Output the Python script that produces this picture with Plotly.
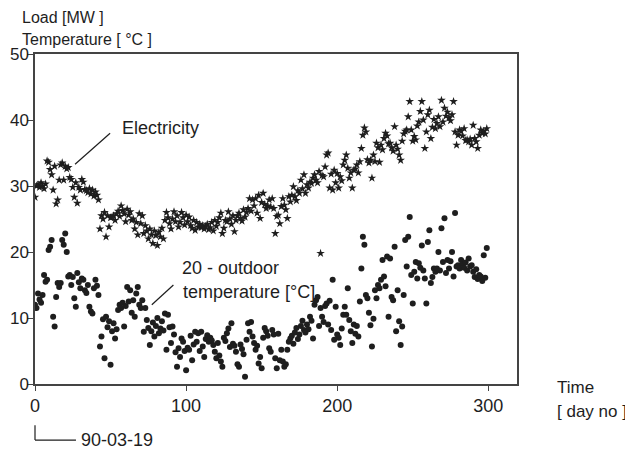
import plotly.graph_objects as go

# ---- data ----
elec_day = list(range(300))
elec_mw = [
    28.3, 30.0, 30.2, 29.8, 30.5, 30.0, 29.6, 30.3, 33.8, 33.6,
    32.5, 31.7, 29.4, 33.0, 27.3, 27.9, 30.9, 33.2, 33.5, 30.9,
    33.0, 32.6, 32.8, 31.3, 31.0, 29.8, 28.3, 30.5, 27.4, 29.8,
    29.4, 31.0, 30.6, 29.5, 29.3, 29.0, 29.6, 28.8, 29.4, 28.5,
    29.1, 28.6, 27.9, 23.5, 25.5, 25.0, 26.0, 22.3, 25.5, 23.8,
    25.2, 25.3, 25.5, 24.8, 25.8, 26.2, 25.4, 27.0, 26.3, 25.8,
    24.6, 26.5, 25.6, 26.1, 24.8, 25.0, 23.5, 24.5, 22.6, 25.8,
    24.3, 25.5, 22.8, 24.0, 23.2, 22.0, 23.5, 22.6, 21.3, 23.2,
    22.5, 21.0, 23.0, 22.3, 23.6, 22.0, 24.8, 26.0, 25.2, 24.3,
    23.5, 25.0, 26.1, 24.6, 25.5, 23.8, 24.5, 26.0, 25.2, 24.1,
    25.6, 24.6, 25.3, 24.0, 23.6, 24.8, 23.3, 24.5, 23.8, 24.2,
    23.7, 24.0, 23.5, 23.9, 24.2, 23.4, 23.7, 24.5, 23.2, 24.8,
    23.9, 24.5, 25.2, 25.9, 22.8, 23.6, 24.8, 24.6, 26.1, 25.0,
    24.2, 25.5, 23.1, 24.8, 25.5, 25.9, 25.1, 24.7, 26.4, 25.3,
    26.0, 26.6, 28.1, 26.2, 27.9, 27.0, 28.1, 25.9, 28.6, 25.1,
    27.5, 28.9, 27.2, 26.6, 27.0, 27.9, 26.8, 28.1, 26.6, 22.8,
    25.4, 25.6, 24.3, 26.9, 28.1, 27.1, 26.4, 25.1, 28.4, 27.6,
    28.6, 29.9, 28.4, 27.8, 29.3, 28.9, 30.9, 29.6, 31.7, 28.9,
    30.2, 29.7, 30.6, 30.4, 31.2, 31.7, 30.9, 30.5, 32.2, 19.8,
    31.6, 31.4, 32.9, 34.7, 35.0, 29.7, 31.8, 29.4, 32.4, 30.5,
    31.9, 29.7, 31.4, 30.8, 33.2, 33.9, 34.7, 32.7, 31.2, 32.0,
    29.7, 32.4, 32.6, 33.2, 32.0, 33.7, 35.7, 37.7, 38.8, 38.2,
    34.0, 33.5, 33.9, 31.2, 34.7, 33.7, 36.5, 35.8, 33.6, 36.2,
    35.5, 37.2, 38.0, 37.6, 36.4, 36.5, 35.8, 35.3, 39.0, 36.2,
    35.6, 34.7, 33.9, 36.8, 37.9, 38.3, 38.5, 40.5, 42.8, 38.5,
    36.8, 37.5, 37.0, 39.1, 39.7, 41.3, 42.8, 40.0, 35.7, 38.2,
    40.8, 41.5, 37.2, 38.9, 40.1, 38.7, 39.5, 40.5, 39.0, 43.0,
    39.7, 41.8, 40.6, 41.2, 40.3, 39.9, 40.8, 42.8, 38.2, 36.2,
    37.7, 38.5, 38.3, 37.6, 38.7, 36.9, 37.0, 36.7, 37.1, 36.2,
    39.2, 37.2, 36.7, 35.7, 37.7, 38.5, 38.0, 38.3, 37.9, 38.7,
]

temp_day = list(range(300))
temp_val = [  # 20 - outdoor temperature [°C]
    12.0, 11.5, 13.7, 12.8, 12.3, 13.5, 16.5, 15.5, 15.8, 20.3,
    20.8, 21.8, 10.2, 8.7, 13.2, 15.3, 14.7, 15.3, 21.8, 21.1,
    22.8, 20.0, 16.3, 16.5, 15.0, 16.2, 13.0, 11.7, 16.8, 15.4,
    14.5, 16.0, 15.8, 14.2, 13.8, 15.0, 11.7, 11.0, 10.7, 14.5,
    15.8, 14.9, 13.5, 5.7, 7.2, 9.8, 3.9, 10.2, 8.6, 9.5,
    2.9, 8.0, 9.2, 6.9, 8.3, 11.2, 12.0, 11.5, 12.3, 8.7,
    11.8, 14.7, 12.5, 14.2, 10.8, 12.7, 10.2, 13.7, 14.7, 12.0,
    11.5, 12.7, 7.9, 11.5, 9.7, 8.5, 5.9, 8.0, 9.3, 7.2,
    8.8, 10.0, 7.7, 8.4, 9.5, 8.1, 10.7, 5.2, 10.5, 8.6,
    6.2, 8.7, 7.5, 4.8, 2.6, 5.4, 4.1, 6.9, 6.4, 5.0,
    2.1, 5.5, 5.2, 7.3, 3.6, 6.0, 7.9, 6.4, 7.7, 5.0,
    7.9, 5.7, 4.1, 6.8, 7.4, 6.4, 7.0, 6.6, 5.9, 4.9,
    3.9, 6.2, 4.3, 3.4, 2.6, 7.0, 6.5, 7.7, 8.4, 5.6,
    9.2, 6.1, 5.8, 4.9, 3.0, 2.6, 6.0, 5.3, 4.5, 1.1,
    6.7, 9.2, 7.9, 9.4, 7.2, 6.2, 5.2, 5.8, 3.1, 4.1,
    2.4, 7.0, 8.5, 8.0, 7.3, 5.4, 4.9, 8.2, 7.5, 3.9,
    2.4, 7.6, 3.6, 5.2, 3.4, 2.6, 3.0, 5.2, 6.4, 6.9,
    7.3, 6.1, 7.8, 8.5, 6.8, 7.5, 8.8, 9.6, 8.2, 7.8,
    9.0, 8.3, 10.2, 9.6, 6.9, 12.0, 12.7, 13.2, 8.8, 11.5,
    10.2, 9.4, 11.8, 12.2, 9.0, 12.6, 8.2, 15.8, 6.7, 11.7,
    7.5, 7.0, 5.9, 8.4, 10.5, 11.7, 10.5, 14.5, 9.7, 8.0,
    6.2, 9.0, 7.6, 8.8, 7.2, 12.5, 17.5, 22.3, 21.1, 13.5,
    13.0, 10.8, 8.9, 5.7, 9.9, 14.2, 13.0, 15.0, 14.5, 15.8,
    18.8, 16.3, 14.8, 19.3, 10.2, 19.0, 13.2, 12.7, 20.8, 8.0,
    14.2, 9.5, 5.9, 8.7, 13.5, 21.8, 17.8, 22.3, 25.3, 16.5,
    12.2, 17.0, 18.5, 16.0, 18.3, 17.6, 21.0, 17.2, 16.0, 12.2,
    21.5, 23.3, 15.3, 16.2, 17.5, 17.0, 17.5, 20.0, 17.2, 23.6,
    18.5, 25.1, 16.8, 18.8, 17.5, 18.6, 20.0, 16.3, 25.9, 17.8,
    18.0, 17.5, 18.8, 18.2, 17.6, 18.4, 17.2, 19.0, 17.8, 18.0,
    17.0, 16.2, 17.4, 15.9, 16.5, 16.3, 15.6, 19.5, 16.1, 20.6,
]

x_ticks = [0, 100, 200, 300]
y_ticks = [0, 10, 20, 30, 40, 50]

INK = "#1e1e1e"
FONT = "Liberation Sans, Arial, Helvetica, sans-serif"
FS = 18

fig = go.Figure()
fig.add_trace(go.Scatter(
    x=elec_day, y=elec_mw, mode="markers", name="Electricity",
    marker=dict(symbol="star", size=6.5, color=INK, line=dict(width=0)),
))
fig.add_trace(go.Scatter(
    x=temp_day, y=temp_val, mode="markers", name="20 - outdoor temperature [°C]",
    marker=dict(symbol="circle", size=6, color=INK, line=dict(width=0)),
))

# page body has an 8px margin, so the figure is sized/placed to compensate
fig.update_layout(
    width=625, height=446,
    margin=dict(l=27, r=116, t=46, b=70),
    paper_bgcolor="white", plot_bgcolor="white",
    showlegend=False,
    font=dict(family=FONT, size=FS, color=INK),
    xaxis=dict(
        range=[0, 319], tickvals=x_ticks, ticks="outside", ticklen=5,
        tickwidth=1, tickcolor="#444", showgrid=False, zeroline=False,
        showline=True, mirror=True, linecolor="#444", linewidth=1.5,
        tickfont=dict(size=FS), automargin=False,
    ),
    yaxis=dict(
        range=[0, 50], tickvals=y_ticks, ticks="outside", ticklen=6,
        tickwidth=1, tickcolor="#444", showgrid=False, zeroline=False,
        showline=True, mirror=True, linecolor="#444", linewidth=1.5,
        tickfont=dict(size=17), automargin=False, ticklabelstandoff=-5,
    ),
)

ann = [
    dict(text="Load [MW ]", xref="paper", yref="paper", x=-0.029, y=1.138,
         xanchor="left", yanchor="top", font_size=16, borderpad=0),
    dict(text="Temperature [ °C ]", xref="paper", yref="paper", x=-0.029, y=1.072,
         xanchor="left", yanchor="top", font_size=16, borderpad=0),
    dict(text="Time", xref="paper", yref="paper", x=1.079, y=-0.01,
         xanchor="left", yanchor="middle", font_size=17),
    dict(text="[ day no ]", xref="paper", yref="paper", x=1.079, y=-0.083,
         xanchor="left", yanchor="middle", font_size=17),
    dict(text="90-03-19", xref="paper", yref="paper", x=0.092, y=-0.170,
         xanchor="left", yanchor="middle"),
    dict(text="Electricity", xref="x", yref="y", x=56.3, y=38.8,
         xanchor="left", yanchor="middle"),
    dict(text="20 - outdoor", xref="x", yref="y", x=96.0, y=17.6,
         xanchor="left", yanchor="middle"),
    dict(text="temperature [°C]", xref="x", yref="y", x=96.5, y=14.0,
         xanchor="left", yanchor="middle"),
]
for a in ann:
    size = a.pop("font_size", FS)
    a.update(showarrow=False, font=dict(family=FONT, size=size, color=INK))
fig.update_layout(annotations=ann)

line_style = dict(color=INK, width=1.2)
fig.add_shape(type="line", xref="x", yref="y", x0=26.5, y0=33.3, x1=49.7, y1=38.0,
              line=line_style)
fig.add_shape(type="line", xref="x", yref="y", x0=77.3, y0=12.0, x1=91.6, y1=15.0,
              line=line_style)
# date bracket under the origin
fig.add_shape(type="line", xref="paper", yref="paper", x0=0, y0=-0.125, x1=0, y1=-0.170,
              line=line_style)
fig.add_shape(type="line", xref="paper", yref="paper", x0=0, y0=-0.170, x1=0.085, y1=-0.170,
              line=line_style)

fig.write_html("out.html")
